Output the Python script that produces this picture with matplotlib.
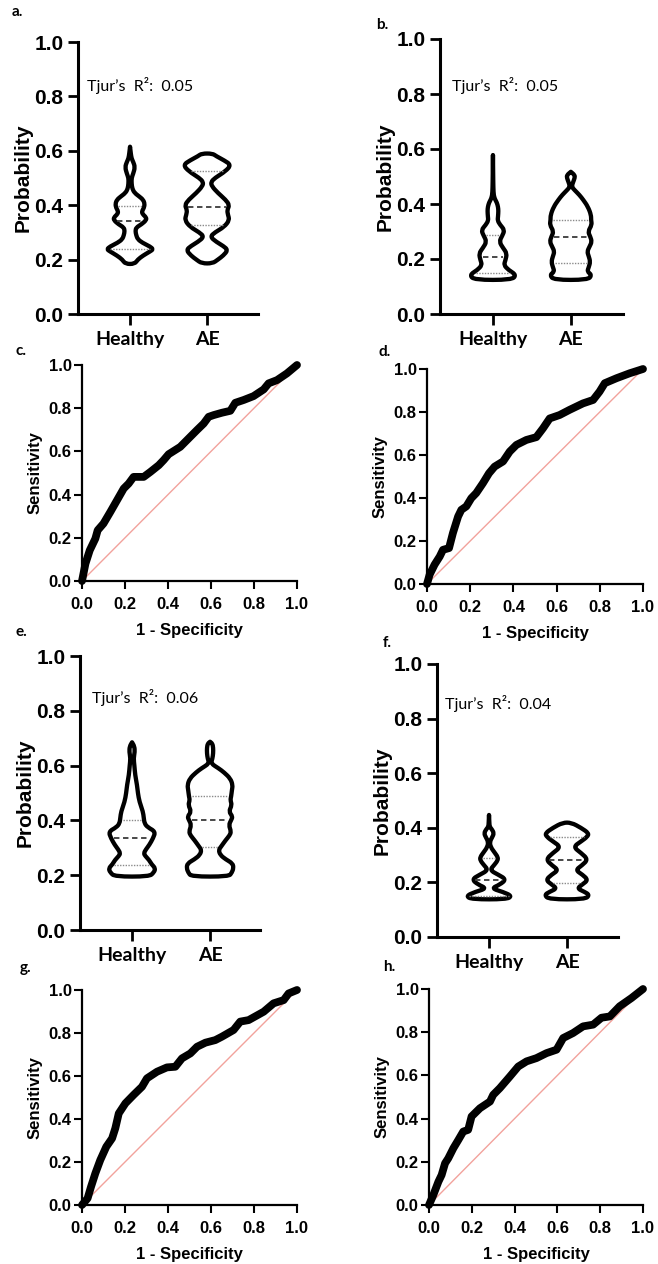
import numpy as np
import matplotlib
matplotlib.use('Agg')
import matplotlib.pyplot as plt
from matplotlib.path import Path
from matplotlib.patches import PathPatch

W, H = 658, 1264
groups = ['Healthy', 'AE']
chance = [0, 1]

# violin outlines: probability level and half width
a_healthy_p = [0.184, 0.200, 0.215, 0.230, 0.238, 0.248, 0.262, 0.275, 0.290, 0.305, 0.318, 0.330,
               0.345, 0.355, 0.368, 0.378, 0.390, 0.405, 0.420, 0.432, 0.445, 0.460, 0.480, 0.500,
               0.515, 0.540, 0.560, 0.572, 0.590, 0.615]
a_healthy_w = [0.06, 0.10, 0.17, 0.26, 0.30, 0.26, 0.16, 0.10, 0.08, 0.07, 0.08, 0.15,
               0.21, 0.21, 0.16, 0.155, 0.18, 0.19, 0.17, 0.12, 0.06, 0.03, 0.02, 0.02,
               0.04, 0.065, 0.04, 0.02, 0.01, 0.0]
a_ae_p = [0.186, 0.200, 0.215, 0.235, 0.250, 0.265, 0.284, 0.300, 0.320, 0.345, 0.365, 0.382,
          0.400, 0.420, 0.445, 0.470, 0.485, 0.500, 0.525, 0.548, 0.565, 0.580, 0.590]
a_ae_w = [0.07, 0.14, 0.21, 0.27, 0.21, 0.12, 0.04, 0.10, 0.22, 0.29, 0.27, 0.26,
          0.29, 0.24, 0.14, 0.06, 0.05, 0.10, 0.24, 0.31, 0.22, 0.12, 0.07]

b_healthy_p = [0.124, 0.142, 0.160, 0.178, 0.195, 0.220, 0.240, 0.263, 0.285, 0.305, 0.325,
               0.340, 0.354, 0.375, 0.390, 0.405, 0.415, 0.430, 0.460, 0.500, 0.578]
b_healthy_w = [0.24, 0.30, 0.20, 0.14, 0.16, 0.18, 0.13, 0.08, 0.12, 0.15, 0.09,
               0.06, 0.065, 0.07, 0.065, 0.05, 0.03, 0.01, 0.005, 0.003, 0.0]
b_ae_p = [0.124, 0.142, 0.154, 0.170, 0.190, 0.210, 0.227, 0.245, 0.263, 0.281, 0.300, 0.324,
          0.342, 0.360, 0.390, 0.415, 0.433, 0.450, 0.463, 0.480, 0.495, 0.505, 0.517]
b_ae_w = [0.22, 0.27, 0.21, 0.23, 0.25, 0.23, 0.21, 0.24, 0.27, 0.25, 0.22, 0.27,
          0.26, 0.26, 0.22, 0.16, 0.11, 0.05, 0.01, 0.03, 0.05, 0.05, 0.0]

e_healthy_p = [0.195, 0.210, 0.225, 0.240, 0.255, 0.270, 0.280, 0.295, 0.310, 0.335, 0.359,
               0.375, 0.389, 0.410, 0.432, 0.468, 0.500, 0.529, 0.566, 0.600, 0.627, 0.650,
               0.670, 0.685]
e_healthy_w = [0.22, 0.28, 0.30, 0.25, 0.22, 0.17, 0.15, 0.18, 0.22, 0.27, 0.30,
               0.20, 0.16, 0.15, 0.14, 0.095, 0.075, 0.064, 0.04, 0.03, 0.02, 0.035,
               0.03, 0.0]
e_ae_p = [0.195, 0.210, 0.226, 0.243, 0.258, 0.274, 0.292, 0.304, 0.328, 0.345, 0.359, 0.383,
          0.401, 0.414, 0.432, 0.456, 0.474, 0.487, 0.510, 0.529, 0.553, 0.575, 0.590, 0.608,
          0.625, 0.645, 0.665, 0.680, 0.687]
e_ae_w = [0.24, 0.28, 0.30, 0.29, 0.20, 0.13, 0.11, 0.14, 0.20, 0.25, 0.27, 0.24,
          0.27, 0.29, 0.24, 0.28, 0.26, 0.27, 0.28, 0.29, 0.26, 0.18, 0.11, 0.01,
          0.03, 0.04, 0.04, 0.03, 0.0]

f_healthy_p = [0.138, 0.150, 0.165, 0.178, 0.192, 0.211, 0.228, 0.245, 0.265, 0.280, 0.292,
               0.310, 0.330, 0.349, 0.365, 0.380, 0.395, 0.404, 0.420, 0.447]
f_healthy_w = [0.22, 0.295, 0.18, 0.03, 0.14, 0.22, 0.12, 0.01, 0.07, 0.11, 0.115,
               0.07, 0.02, 0.01, 0.04, 0.064, 0.035, 0.008, 0.004, 0.0]
f_ae_p = [0.138, 0.154, 0.166, 0.178, 0.193, 0.209, 0.228, 0.245, 0.262, 0.284, 0.308,
          0.330, 0.350, 0.367, 0.380, 0.400, 0.419]
f_ae_w = [0.23, 0.29, 0.22, 0.13, 0.20, 0.27, 0.20, 0.11, 0.19, 0.27, 0.18,
          0.08, 0.18, 0.26, 0.28, 0.18, 0.055]

# 25th, 50th, 75th percentile lines
a_healthy_q = [0.239, 0.343, 0.398]
a_ae_q = [0.327, 0.394, 0.526]
b_healthy_q = [0.150, 0.206, 0.287]
b_ae_q = [0.184, 0.281, 0.342]
e_healthy_q = [0.237, 0.334, 0.400]
e_ae_q = [0.303, 0.401, 0.488]
f_healthy_q = [0.150, 0.210, 0.288]
f_ae_q = [0.196, 0.283, 0.366]

tjur_r2 = ['0.05', '0.05', '0.06', '0.04']

# ROC curves: 1 - specificity, sensitivity
c_fpr = [0, 0.016, 0.036, 0.062, 0.073, 0.10, 0.132, 0.163, 0.194, 0.217, 0.24, 0.287, 0.318,
         0.357, 0.38, 0.403, 0.457, 0.488, 0.535, 0.566, 0.589, 0.612, 0.651, 0.69, 0.713,
         0.752, 0.798, 0.845, 0.868, 0.907, 0.953, 1.0]
c_tpr = [0, 0.08, 0.142, 0.196, 0.235, 0.266, 0.32, 0.374, 0.428, 0.451, 0.482, 0.482, 0.505,
         0.536, 0.56, 0.587, 0.621, 0.652, 0.699, 0.729, 0.76, 0.768, 0.779, 0.788, 0.825,
         0.838, 0.856, 0.887, 0.915, 0.93, 0.961, 1.0]
d_fpr = [0, 0.012, 0.035, 0.059, 0.074, 0.102, 0.12, 0.144, 0.159, 0.182, 0.205, 0.228, 0.259,
         0.287, 0.313, 0.352, 0.383, 0.414, 0.46, 0.506, 0.537, 0.568, 0.614, 0.66, 0.722,
         0.769, 0.799, 0.823, 0.877, 0.938, 1.0]
d_tpr = [0, 0.043, 0.09, 0.128, 0.159, 0.167, 0.237, 0.314, 0.345, 0.361, 0.399, 0.423, 0.469,
         0.515, 0.546, 0.57, 0.616, 0.647, 0.67, 0.683, 0.724, 0.77, 0.786, 0.81, 0.84,
         0.856, 0.895, 0.934, 0.957, 0.98, 1.0]
g_fpr = [0, 0.026, 0.042, 0.062, 0.085, 0.113, 0.14, 0.155, 0.171, 0.202, 0.24, 0.279, 0.302,
         0.349, 0.395, 0.434, 0.465, 0.504, 0.535, 0.574, 0.62, 0.651, 0.705, 0.736, 0.775,
         0.845, 0.891, 0.938, 0.961, 1.0]
g_tpr = [0, 0.031, 0.085, 0.147, 0.209, 0.271, 0.31, 0.357, 0.426, 0.473, 0.512, 0.55, 0.589,
         0.62, 0.64, 0.643, 0.682, 0.705, 0.736, 0.755, 0.767, 0.783, 0.814, 0.853, 0.86,
         0.899, 0.938, 0.953, 0.984, 1.0]
h_fpr = [0, 0.02, 0.044, 0.059, 0.075, 0.09, 0.114, 0.137, 0.16, 0.183, 0.199, 0.238, 0.285,
         0.3, 0.331, 0.378, 0.417, 0.456, 0.502, 0.549, 0.596, 0.627, 0.673, 0.72, 0.767,
         0.806, 0.845, 0.891, 0.946, 1.0]
h_tpr = [0, 0.046, 0.108, 0.139, 0.193, 0.216, 0.263, 0.301, 0.34, 0.348, 0.41, 0.448, 0.479,
         0.51, 0.541, 0.595, 0.641, 0.665, 0.68, 0.703, 0.719, 0.773, 0.796, 0.827, 0.835,
         0.867, 0.873, 0.92, 0.958, 1.0]

ARIAL = 'Liberation Sans'
CALIBRI = 'Lato'

fig = plt.figure(figsize=(W / 100, H / 100), dpi=100)


def px_axes(left, top, right, bottom):
    return fig.add_axes([left / W, 1 - bottom / H, (right - left) / W, (bottom - top) / H])


def smooth_outline(xs, ys):
    # closed outline with the read points as quadratic bezier control points
    pts = np.column_stack([xs, ys])
    n = len(pts)
    mids = (pts + np.roll(pts, -1, axis=0)) / 2
    verts = [mids[-1]]
    codes = [Path.MOVETO]
    for i in range(n):
        verts += [pts[i], mids[i]]
        codes += [Path.CURVE3, Path.CURVE3]
    verts.append(mids[-1])
    codes.append(Path.CLOSEPOLY)
    return Path(verts, codes)


def draw_violin(ax, pos, p, w, q):
    p = np.array(p)
    w = np.array(w)
    xs = np.concatenate([pos - w, (pos + w)[::-1]])
    ys = np.concatenate([p, p[::-1]])
    ax.add_patch(PathPatch(smooth_outline(xs, ys), facecolor='white', edgecolor='black',
                           lw=3.1, joinstyle='round', zorder=2))
    for i, level in enumerate(q):
        half = max(np.interp(level, p, w) - 0.035, 0.01)
        if i == 1:
            ax.plot([pos - half, pos + half], [level, level], color='#3a3a3a', lw=1.3,
                    ls=(0, (3, 2)), zorder=3)
        else:
            ax.plot([pos - half, pos + half], [level, level], color='#8a8a8a', lw=1.0,
                    ls=(0, (1, 1)), zorder=3)


def violin_panel(box, xlim, healthy, ae, r2, r2_xy, letter, letter_xy):
    ax = px_axes(*box)
    draw_violin(ax, 0, *healthy)
    draw_violin(ax, 1, *ae)
    ax.set_xlim(*xlim)
    ax.set_ylim(0, 1)
    ax.set_yticks(np.arange(0, 1.01, 0.2))
    ax.set_yticklabels(['%.1f' % v for v in np.arange(0, 1.01, 0.2)],
                       fontfamily=ARIAL, fontweight='bold', fontsize=15)
    ax.set_xticks([0, 1])
    ax.set_xticklabels(groups, fontfamily=CALIBRI, fontweight='bold', fontsize=14)
    for s in ['top', 'right']:
        ax.spines[s].set_visible(False)
    for s in ['left', 'bottom']:
        ax.spines[s].set_linewidth(2.2)
    ax.tick_params(axis='y', length=7.5, width=2, pad=3)
    ax.tick_params(axis='x', length=8, width=2, pad=4)
    ax.set_ylabel('Probability', fontfamily=ARIAL, fontweight='bold', fontsize=15, labelpad=1)
    fig.text(r2_xy[0] / W, 1 - r2_xy[1] / H, 'Tjur\u2019s  R\u00b2:  ' + r2,
             fontfamily=CALIBRI, fontsize=11.5, va='center', ha='left')
    fig.text(letter_xy[0] / W, 1 - letter_xy[1] / H, letter,
             fontfamily=CALIBRI, fontweight='bold', fontsize=11, va='center', ha='left')


def roc_panel(box, fpr, tpr, letter, letter_xy):
    ax = px_axes(*box)
    ax.plot(chance, chance, color='#f2a29c', lw=1.0, zorder=2)
    ax.plot(fpr, tpr, color='black', lw=5.6, solid_joinstyle='round',
            solid_capstyle='round', clip_on=False, zorder=3)
    ax.set_xlim(0, 1)
    ax.set_ylim(0, 1)
    ticks = np.arange(0, 1.01, 0.2)
    ax.set_xticks(ticks)
    ax.set_yticks(ticks)
    ax.set_xticklabels(['%.1f' % v for v in ticks], fontfamily=ARIAL, fontweight='bold', fontsize=12)
    ax.set_yticklabels(['%.1f' % v for v in ticks], fontfamily=ARIAL, fontweight='bold', fontsize=12)
    for s in ['top', 'right']:
        ax.spines[s].set_visible(False)
    for s in ['left', 'bottom']:
        ax.spines[s].set_linewidth(1.6)
    ax.tick_params(axis='both', length=5.5, width=1.5)
    ax.tick_params(axis='y', pad=2)
    ax.tick_params(axis='x', pad=6)
    ax.set_xlabel('1 - Specificity', fontfamily=ARIAL, fontweight='bold', fontsize=12, labelpad=8)
    ax.set_ylabel('Sensitivity', fontfamily=ARIAL, fontweight='bold', fontsize=12, labelpad=4)
    fig.text(letter_xy[0] / W, 1 - letter_xy[1] / H, letter,
             fontfamily=CALIBRI, fontweight='bold', fontsize=11, va='center', ha='left')


violin_panel((78, 42, 258, 314), (-0.675, 1.66),
             (a_healthy_p, a_healthy_w, a_healthy_q), (a_ae_p, a_ae_w, a_ae_q),
             tjur_r2[0], (87, 86), 'a.', (12, 12))
violin_panel((440, 39, 623, 314), (-0.68, 1.67),
             (b_healthy_p, b_healthy_w, b_healthy_q), (b_ae_p, b_ae_w, b_ae_q),
             tjur_r2[1], (452, 86), 'b.', (376, 25))
violin_panel((80, 656, 260, 930), (-0.667, 1.64),
             (e_healthy_p, e_healthy_w, e_healthy_q), (e_ae_p, e_ae_w, e_ae_q),
             tjur_r2[2], (92, 698), 'e.', (15, 632))
violin_panel((437, 664, 618, 937), (-0.667, 1.654),
             (f_healthy_p, f_healthy_w, f_healthy_q), (f_ae_p, f_ae_w, f_ae_q),
             tjur_r2[3], (445, 704), 'f.', (383, 643))

roc_panel((82, 365, 297, 581), c_fpr, c_tpr, 'c.', (16, 351))
roc_panel((427, 369, 643, 584), d_fpr, d_tpr, 'd.', (378, 352))
roc_panel((82, 990, 297, 1205), g_fpr, g_tpr, 'g.', (20, 968))
roc_panel((429, 989, 643, 1205), h_fpr, h_tpr, 'h.', (383, 967))

fig.savefig('out.png', dpi=100)
